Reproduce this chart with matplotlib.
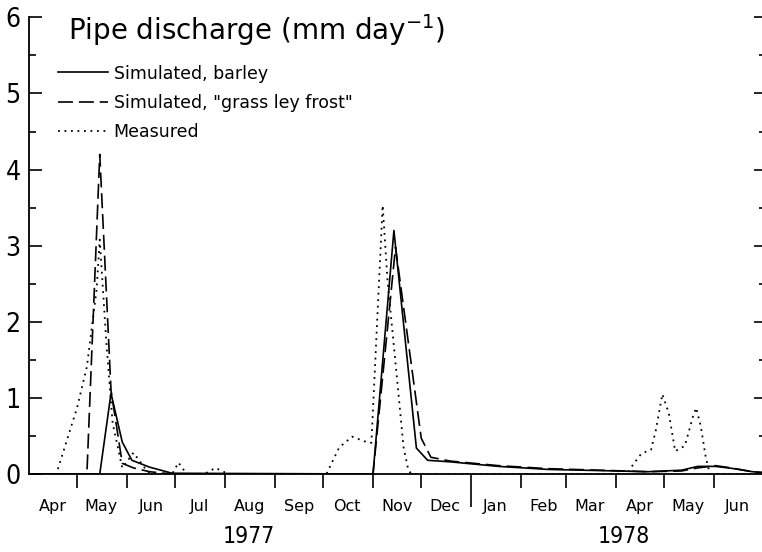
import numpy as np
import matplotlib
matplotlib.use("Agg")
import matplotlib.pyplot as plt

plt.rcParams['font.family'] = ['DejaVu Sans']
plt.rcParams['mathtext.fontset'] = 'dejavusans'

# measured pipe discharge (dotted)
measured_dates = ['1977-04-01', '1977-04-18', '1977-05-01', '1977-05-07', '1977-05-13',
                  '1977-05-15', '1977-05-19', '1977-05-23', '1977-05-29', '1977-06-05',
                  '1977-06-13', '1977-06-16', '1977-06-29', '1977-07-03', '1977-07-08',
                  '1977-07-19', '1977-07-26', '1977-08-03', '1977-10-03', '1977-10-11',
                  '1977-10-19', '1977-10-28', '1977-10-31', '1977-11-07', '1977-11-10',
                  '1977-11-16', '1977-11-20', '1977-11-23', '1977-11-25', '1978-04-08',
                  '1978-04-11', '1978-04-17', '1978-04-23', '1978-04-26', '1978-04-30',
                  '1978-05-04', '1978-05-08', '1978-05-14', '1978-05-19', '1978-05-21',
                  '1978-05-24', '1978-05-27', '1978-05-29', '1978-05-30', '1978-07-01']
measured = [0, 0, 0.88, 1.41, 2.42,
            3.08, 1.76, 0.67, 0.08, 0.28,
            0.05, 0, 0, 0.15, 0,
            0, 0.08, 0, 0, 0.35,
            0.49, 0.42, 0.41, 3.53, 2.55,
            1.24, 0.35, 0.05, 0, 0,
            0.1, 0.27, 0.32, 0.58, 1.05,
            0.8, 0.3, 0.37, 0.75, 0.87,
            0.62, 0.22, 0.05, 0, 0]

# simulated, barley (solid)
barley_dates = ['1977-04-01', '1977-05-15', '1977-05-22', '1977-05-29', '1977-06-04',
                '1977-06-15', '1977-06-29', '1977-11-01', '1977-11-14', '1977-11-28',
                '1977-12-05', '1977-12-19', '1978-01-18', '1978-02-18', '1978-03-22',
                '1978-04-21', '1978-05-12', '1978-05-22', '1978-06-02', '1978-06-12',
                '1978-06-25', '1978-07-01']
barley = [0, 0, 1.06, 0.42, 0.18,
          0.09, 0.01, 0, 3.2, 0.34,
          0.18, 0.16, 0.1, 0.06, 0.045,
          0.03, 0.05, 0.1, 0.1, 0.075,
          0.03, 0.02]

# simulated, "grass ley frost" (dashed)
grass_dates = ['1977-04-01', '1977-05-07', '1977-05-15', '1977-05-22', '1977-05-29',
               '1977-06-05', '1977-06-15', '1977-06-29', '1977-11-01', '1977-11-15',
               '1977-12-01', '1977-12-07', '1977-12-19', '1978-01-18', '1978-02-18',
               '1978-03-22', '1978-04-21', '1978-05-12', '1978-05-22', '1978-06-02',
               '1978-06-12', '1978-06-25', '1978-07-01']
grass = [0, 0, 4.2, 1.1, 0.14,
         0.08, 0.03, 0, 0, 2.98,
         0.47, 0.22, 0.17, 0.11, 0.07,
         0.05, 0.03, 0.04, 0.08, 0.11,
         0.08, 0.03, 0.02]

month_starts = ['1977-04-01', '1977-05-01', '1977-06-01', '1977-07-01', '1977-08-01',
                '1977-09-01', '1977-10-01', '1977-11-01', '1977-12-01', '1978-01-01',
                '1978-02-01', '1978-03-01', '1978-04-01', '1978-05-01', '1978-06-01',
                '1978-07-01']
month_names = ['Apr', 'May', 'Jun', 'Jul', 'Aug', 'Sep', 'Oct', 'Nov', 'Dec',
               'Jan', 'Feb', 'Mar', 'Apr', 'May', 'Jun']
years = ['1977', '1978']
year_pos = ['1977-08-16', '1978-04-06']

to_d = lambda lst: np.array(lst, dtype='datetime64[D]')

fig = plt.figure(figsize=(7.62, 5.52), dpi=100)
ax = fig.add_axes([0.0381, 0.1413, 0.9619, 0.8272])

ax.plot(to_d(barley_dates), barley, color='black', lw=1.2, label='Simulated, barley')
ax.plot(to_d(grass_dates), grass, color='black', lw=1.2, dashes=(9, 3.5),
        label='Simulated, "grass ley frost"')
ax.plot(to_d(measured_dates), measured, color='black', lw=1.3, dashes=(1, 2.6),
        label='Measured')

ms = to_d(month_starts)
ax.set_xlim(ms[0], ms[-1])
ax.set_ylim(0, 6)

for s in ['top', 'right']:
    ax.spines[s].set_visible(False)
for s in ['left', 'bottom']:
    ax.spines[s].set_linewidth(1.3)

# y axis: inward ticks on the left
ax.set_yticks(range(0, 7))
ax.set_yticks(np.arange(0.5, 6, 1), minor=True)
ax.tick_params(axis='y', which='major', direction='in', length=9, width=1.2,
               labelsize=19, pad=6)
ax.tick_params(axis='y', which='minor', direction='in', length=5, width=1.2)
for lab in ax.get_yticklabels():
    lab.set_fontstretch('condensed')

# right side ticks, no spine
ax2 = ax.twinx()
ax2.set_ylim(0, 6)
for s in ax2.spines.values():
    s.set_visible(False)
ax2.set_yticks(range(1, 7))
ax2.set_yticks(np.arange(0.5, 6, 1), minor=True)
ax2.tick_params(axis='y', which='major', direction='in', length=6, width=1.2,
                labelright=False)
ax2.tick_params(axis='y', which='minor', direction='in', length=2.5, width=1.2)

# x axis: outward month ticks, long tick at year change
ax.set_xticks([np.datetime64('1978-01-01')])
ax.set_xticks(ms[1:-1], minor=True)
ax.set_xticklabels([])
ax.tick_params(axis='x', which='major', direction='out', length=24, width=1.2)
ax.tick_params(axis='x', which='minor', direction='out', length=10, width=1.2)

mids = ms[:-1] + (ms[1:] - ms[:-1]) / 2
trans = ax.get_xaxis_transform()
for m, name in zip(mids, month_names):
    ax.text(m, -0.072, name, transform=trans, ha='center', va='center', fontsize=11.5)
for p, yr in zip(to_d(year_pos), years):
    ax.text(p, -0.137, yr, transform=trans, ha='center', va='center', fontsize=16.5,
            fontstretch='condensed')

fig.text(68 / 762, 1 - 30 / 552, 'Pipe discharge (mm day$^{-1}$)', ha='left',
         va='center', fontsize=20)

ax.legend(loc='upper left', bbox_to_anchor=(0.03, 0.912), frameon=False,
          fontsize=12.5, handlelength=2.9, handletextpad=0.3, labelspacing=0.66,
          borderaxespad=0)

fig.savefig('out.png', dpi=100)
